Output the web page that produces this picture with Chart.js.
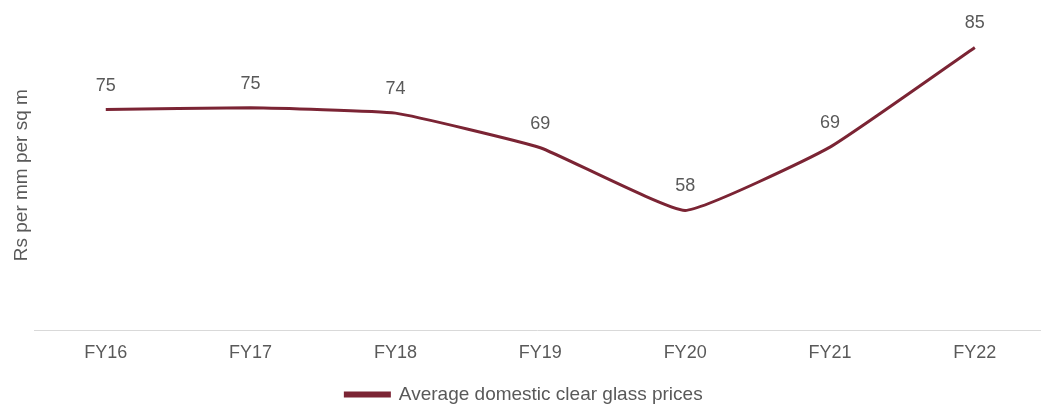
<!DOCTYPE html>
<html>
<head>
<meta charset="utf-8">
<script src="https://cdn.jsdelivr.net/npm/chart.js@4"></script>
<style>
  html, body { margin: 0; padding: 0; background: #ffffff; }
  #wrap { width: 1044px; height: 406px; position: relative; }
</style>
</head>
<body>
<div id="wrap"><canvas id="c"></canvas></div>
<script>
const categories = ['FY16', 'FY17', 'FY18', 'FY19', 'FY20', 'FY21', 'FY22'];
const prices = [75.0, 75.3, 74.4, 68.6, 58.1, 68.7, 85.4];
const seriesName = 'Average domestic clear glass prices';
const yAxisTitle = 'Rs per mm per sq m';

const FONT = "'Liberation Sans', Arial, sans-serif";
const TEXT = '#595959';
const LINE = '#7b2434';

const dataLabels = {
  id: 'dataLabels',
  afterDatasetsDraw(chart) {
    const ctx = chart.ctx;
    const meta = chart.getDatasetMeta(0);
    ctx.save();
    ctx.font = '18px ' + FONT;
    ctx.fillStyle = TEXT;
    ctx.textAlign = 'center';
    ctx.textBaseline = 'middle';
    meta.data.forEach((pt, i) => {
      ctx.fillText(String(Math.round(prices[i])), pt.x, pt.y - 24);
    });
    ctx.restore();
  }
};

new Chart(document.getElementById('c'), {
  type: 'line',
  data: {
    datasets: [{
      label: seriesName,
      data: prices.map((v, i) => ({ x: i, y: v })),
      borderColor: LINE,
      backgroundColor: LINE,
      borderWidth: 3,
      pointRadius: 0,
      tension: 0.12,
      fill: false
    }]
  },
  options: {
    responsive: true,
    maintainAspectRatio: false,
    animation: false,
    layout: { padding: { left: 8, right: 4, top: 20, bottom: -8 } },
    scales: {
      x: {
        type: 'linear',
        min: -0.49,
        max: 6.45,
        afterBuildTicks(scale) {
          scale.ticks = categories.map((c, i) => ({ value: i }));
        },
        afterFit(scale) {
          scale.height += 5;
        },
        ticks: {
          callback: (v) => categories[v],
          color: TEXT,
          font: { family: FONT, size: 18 },
          padding: 12,
          maxRotation: 0,
          autoSkip: false
        },
        grid: { display: false, drawTicks: false },
        border: { display: true, color: '#d9d9d9', width: 1 }
      },
      y: {
        min: 38,
        max: 90,
        ticks: { display: false },
        grid: { display: false, drawTicks: false },
        border: { display: false },
        title: {
          display: true,
          text: yAxisTitle,
          color: TEXT,
          font: { family: FONT, size: 19 },
          padding: { top: 2, bottom: 2 }
        }
      }
    },
    plugins: {
      legend: {
        position: 'bottom',
        labels: {
          boxWidth: 44,
          boxHeight: 3,
          color: TEXT,
          font: { family: FONT, size: 19 },
          padding: 4
        }
      },
      tooltip: { enabled: false }
    }
  },
  plugins: [dataLabels]
});
</script>
</body>
</html>
